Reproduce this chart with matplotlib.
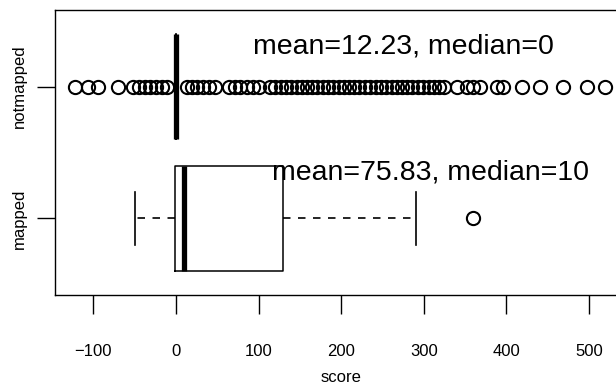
import matplotlib
matplotlib.use('Agg')
import matplotlib.pyplot as plt

plt.rcParams['font.family'] = ['Liberation Sans', 'DejaVu Sans']

# ---- data ----
groups = ['mapped', 'notmapped']
positions = [1, 2]

mapped_q1, mapped_med, mapped_q3 = -1, 10, 130
mapped_whislo, mapped_whishi = -50, 290
mapped_fliers = [360]

notmapped_q1, notmapped_med, notmapped_q3 = 0, 0, 0
notmapped_whislo, notmapped_whishi = 0, 0
notmapped_fliers = [-122, -106, -94, -70, -52, -45, -38, -31, -24, -17, -11,
                    13, 19, 26, 33, 40, 47,
                    64, 71, 78, 86, 93, 100,
                    114, 120, 127, 133, 139, 146, 152, 158, 165, 171, 178, 184,
                    190, 197, 203, 210, 216, 222, 229, 235, 242, 248, 254, 261,
                    267, 274, 280, 286, 293, 299, 306, 312, 318, 325,
                    340, 352, 360, 368, 389, 396, 419, 441, 469, 498, 519]

annotations = ['mean=75.83, median=10', 'mean=12.23, median=0']
annot_x = [116, 93]
annot_y = [1.35, 2.30]

xticks = [-100, 0, 100, 200, 300, 400, 500]
xlabel = 'score'

# ---- figure ----
fig = plt.figure(figsize=(6.16, 3.89), dpi=100)
ax = fig.add_axes([55/616, (389-295)/389, (627-55)/616, (295-10)/389])

stats = [
    dict(q1=mapped_q1, med=mapped_med, q3=mapped_q3, whislo=mapped_whislo,
         whishi=mapped_whishi, fliers=mapped_fliers, label=groups[0]),
    dict(q1=notmapped_q1, med=notmapped_med, q3=notmapped_q3, whislo=notmapped_whislo,
         whishi=notmapped_whishi, fliers=notmapped_fliers, label=groups[1]),
]

ax.bxp(stats, positions=positions, widths=0.8, orientation='horizontal',
       showfliers=True,
       boxprops=dict(color='black', linewidth=1.1),
       whiskerprops=dict(color='black', linewidth=1.2, linestyle=(0, (4.5, 4.5))),
       capprops=dict(color='black', linewidth=1.2),
       capwidths=0.4,
       medianprops=dict(color='black', linewidth=3.8, solid_capstyle='butt'),
       flierprops=dict(marker='o', markerfacecolor='none', markeredgecolor='black',
                       markersize=9.5, markeredgewidth=1.5, linestyle='none'))

for t, x, y in zip(annotations, annot_x, annot_y):
    ax.text(x, y, t, fontsize=20.5, ha='left', va='center', color='black')

ax.set_xlim(-146.5, 546)
ax.set_ylim(0.42, 2.58)
ax.set_xticks(xticks)
ax.set_xticklabels([str(v).replace('-', '\u2212') for v in xticks])
ax.set_yticks(positions)
ax.set_yticklabels(groups, rotation=90, va='center')
ax.tick_params(axis='x', length=14, width=1.0, pad=21, labelsize=12)
ax.tick_params(axis='y', length=13, width=1.0, pad=7, labelsize=12)
ax.set_xlabel(xlabel, fontsize=12, labelpad=8)
for s in ax.spines.values():
    s.set_linewidth(1.0)

fig.savefig('out.png', dpi=100)
